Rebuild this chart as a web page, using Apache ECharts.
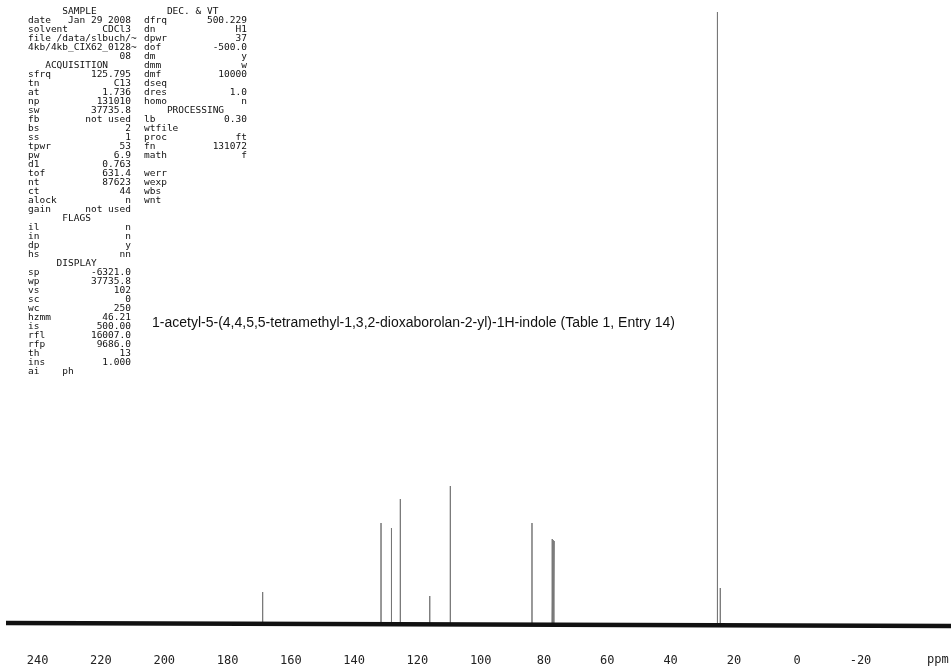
<!DOCTYPE html>
<html>
<head>
<meta charset="utf-8">
<script src="https://cdn.jsdelivr.net/npm/echarts@6/dist/echarts.min.js"></script>
<style>
html,body{margin:0;padding:0;background:#fff;}
#chart{width:951px;height:670px;}
</style>
</head>
<body>
<div id="chart"></div>
<script>
// ---- Data ----
const peakPpm    = [168.9, 131.5, 128.2, 125.4, 116.1, 109.6, 83.8, 77.4, 77.1, 76.8, 25.2, 24.3];
const peakHeight = [32,    101,   96,    125,   28,    138,   101,  85,   84,   83,   612,  36];
const baselinePpm = [250, -48.6];
const baselineVal = [1, -2];
const tickLabels = [240, 220, 200, 180, 160, 140, 120, 100, 80, 60, 40, 20, 0, -20];
const axisUnit = 'ppm';
const titleText = '1-acetyl-5-(4,4,5,5-tetramethyl-1,3,2-dioxaborolan-2-yl)-1H-indole (Table 1, Entry 14)';

const leftParams = [
  ['#', 'SAMPLE', 6],
  ['date', 'Jan 29 2008'],
  ['solvent', 'CDCl3'],
  ['file /data/slbuch/~', ''],
  ['4kb/4kb_CIX62_0128~', ''],
  ['', '08'],
  ['#', 'ACQUISITION', 3],
  ['sfrq', '125.795'],
  ['tn', 'C13'],
  ['at', '1.736'],
  ['np', '131010'],
  ['sw', '37735.8'],
  ['fb', 'not used'],
  ['bs', '2'],
  ['ss', '1'],
  ['tpwr', '53'],
  ['pw', '6.9'],
  ['d1', '0.763'],
  ['tof', '631.4'],
  ['nt', '87623'],
  ['ct', '44'],
  ['alock', 'n'],
  ['gain', 'not used'],
  ['#', 'FLAGS', 6],
  ['il', 'n'],
  ['in', 'n'],
  ['dp', 'y'],
  ['hs', 'nn'],
  ['#', 'DISPLAY', 5],
  ['sp', '-6321.0'],
  ['wp', '37735.8'],
  ['vs', '102'],
  ['sc', '0'],
  ['wc', '250'],
  ['hzmm', '46.21'],
  ['is', '500.00'],
  ['rfl', '16007.0'],
  ['rfp', '9686.0'],
  ['th', '13'],
  ['ins', '1.000'],
  ['ai    ph', '']
];
const rightParams = [
  ['#', 'DEC. & VT', 4],
  ['dfrq', '500.229'],
  ['dn', 'H1'],
  ['dpwr', '37'],
  ['dof', '-500.0'],
  ['dm', 'y'],
  ['dmm', 'w'],
  ['dmf', '10000'],
  ['dseq', ''],
  ['dres', '1.0'],
  ['homo', 'n'],
  ['#', 'PROCESSING', 4],
  ['lb', '0.30'],
  ['wtfile', ''],
  ['proc', 'ft'],
  ['fn', '131072'],
  ['math', 'f'],
  ['', ''],
  ['werr', ''],
  ['wexp', ''],
  ['wbs', ''],
  ['wnt', '']
];

function fmtLines(rows, width) {
  return rows.map(function (r) {
    if (r[0] === '#') return ' '.repeat(r[2]) + r[1];
    const lab = r[0], val = r[1];
    if (!val) return lab;
    const gap = Math.max(1, width - lab.length - val.length);
    return lab + ' '.repeat(gap) + val;
  }).join('\n');
}

// spectrum spikes built from the peak arrays
const spikeData = [];
const order = peakPpm.map(function (p, i) { return i; }).sort(function (a, b) { return peakPpm[b] - peakPpm[a]; });
order.forEach(function (i) {
  spikeData.push([peakPpm[i], 0]);
  spikeData.push([peakPpm[i], peakHeight[i]]);
  spikeData.push([peakPpm[i], 0]);
});
const baseData = baselinePpm.map(function (p, i) { return [p, baselineVal[i]]; });

const chart = echarts.init(document.getElementById('chart'), null, { renderer: 'canvas' });
const mono = '"DejaVu Sans Mono", "Liberation Mono", monospace';
chart.setOption({
  animation: false,
  backgroundColor: '#ffffff',
  grid: { left: 6, right: 0, top: 0, bottom: 28, containLabel: false },
  xAxis: {
    type: 'value',
    inverse: true,
    min: -48.6,
    max: 250,
    splitLine: { show: false },
    axisLine: { show: true, lineStyle: { color: '#c8c8c8', width: 1, type: [2, 4] } },
    axisTick: { show: false },
    axisLabel: {
      show: true,
      customValues: tickLabels,
      margin: 13,
      fontFamily: mono,
      fontSize: 12,
      color: '#222'
    }
  },
  yAxis: {
    type: 'value',
    min: -18,
    max: 624,
    show: false
  },
  series: [
    {
      type: 'line',
      data: baseData,
      symbol: 'none',
      clip: false,
      lineStyle: { color: '#111', width: 4.5 },
      z: 3
    },
    {
      type: 'line',
      data: spikeData,
      symbol: 'none',
      clip: false,
      lineStyle: { color: '#777', width: 1 },
      z: 2
    }
  ],
  graphic: [
    {
      type: 'text', left: 28, top: 7,
      style: { text: fmtLines(leftParams, 18), font: '9.5px ' + mono, lineHeight: 9, fill: '#111' }
    },
    {
      type: 'text', left: 144, top: 7,
      style: { text: fmtLines(rightParams, 18), font: '9.5px ' + mono, lineHeight: 9, fill: '#111' }
    },
    {
      type: 'text', left: 152, top: 316,
      style: { text: titleText, font: '14px "Liberation Sans", Arial, sans-serif', fill: '#111' }
    },
    {
      type: 'text', left: 927, top: 654,
      style: { text: axisUnit, font: '12px ' + mono, fill: '#222' }
    }
  ]
});
</script>
</body>
</html>
